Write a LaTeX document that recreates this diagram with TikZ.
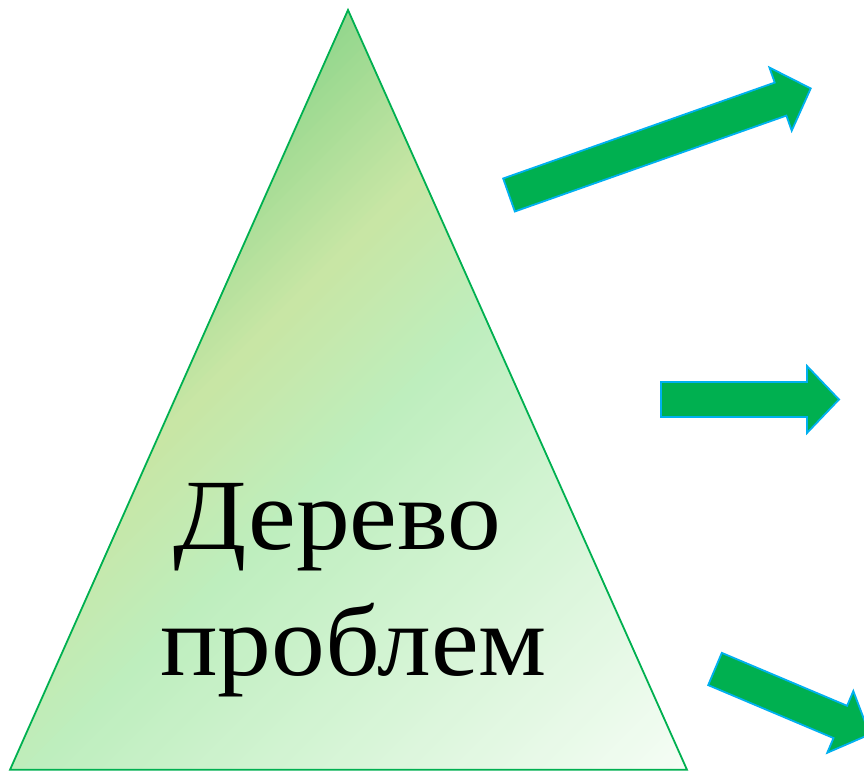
\documentclass[tikz,border=0pt]{standalone}
\usepackage{fontspec}
\setmainfont{Liberation Serif}
\newfontfamily\trifont[FakeStretch=1.065]{Liberation Serif}
\definecolor{agreen}{RGB}{0,176,80}
\definecolor{ablue}{RGB}{0,176,240}
\definecolor{gA}{RGB}{145,214,140}
\definecolor{gB}{RGB}{200,230,165}
\definecolor{gC}{RGB}{190,238,190}
\definecolor{gD}{RGB}{246,253,246}
\tikzset{
  blockarrow/.style={fill=agreen, draw=ablue, line width=1.8pt, line join=miter},
  tritext/.style={anchor=base, inner sep=0pt, font=\trifont\fontsize{101}{120}\selectfont},
  stripe/.style={line width=0pt}
}
\begin{document}
\begin{tikzpicture}[x=1pt,y=1pt]
\useasboundingbox (0,0) rectangle (864,771);
\clip (0,0) rectangle (864,771);
\fill[white] (0,0) rectangle (864,771);
% triangle with diagonal gradient
\coordinate (apex) at (348,761);
\coordinate (bl) at (10,1.2);
\coordinate (br) at (687,1.2);
\begin{scope}
  \clip (apex) -- (br) -- (bl) -- cycle;
  \foreach \s in {340,350,...,590} {
    \pgfmathsetmacro\p{max(0,min(100,(\s-350)/2.4))}
    \fill[stripe, color={gB!\p!gA}] ({\s-771-60},-60) -- ({\s-771+860},860) -- ({\s+11-771+860},860) -- ({\s+11-771-60},-60) -- cycle;
  }
  \foreach \s in {600,610,...,790} {
    \pgfmathsetmacro\p{(\s-600)/2}
    \fill[stripe, color={gC!\p!gB}] ({\s-771-60},-60) -- ({\s-771+860},860) -- ({\s+11-771+860},860) -- ({\s+11-771-60},-60) -- cycle;
  }
  \foreach \s in {800,810,...,1470} {
    \pgfmathsetmacro\p{max(0,min(100,(\s-800)/6.6))}
    \fill[stripe, color={gD!\p!gC}] ({\s-771-60},-60) -- ({\s-771+860},860) -- ({\s+11-771+860},860) -- ({\s+11-771-60},-60) -- cycle;
  }
\end{scope}
\draw[agreen, line width=1.8pt, line join=miter] (apex) -- (br) -- (bl) -- cycle;
% text
\node[tritext] (t1) at (337.5,221) {Дерево};
\node[tritext] (t2) at (353.5,96) {проблем};
% arrows
\draw[blockarrow, shift={(509,576)}, rotate=19.45]
  (0,-17.5) -- (288,-17.5) -- (288,-33.5) -- (320,0) -- (288,33.5) -- (288,17.5) -- (0,17.5) -- cycle;
\draw[blockarrow, shift={(661,371.5)}, rotate=0]
  (0,-17.5) -- (146,-17.5) -- (146,-33.5) -- (178,0) -- (146,33.5) -- (146,17.5) -- (0,17.5) -- cycle;
\draw[blockarrow, shift={(715,102)}, rotate=-22.9]
  (0,-17.5) -- (136,-17.5) -- (136,-33.5) -- (168,0) -- (136,33.5) -- (136,17.5) -- (0,17.5) -- cycle;
\end{tikzpicture}
\end{document}
